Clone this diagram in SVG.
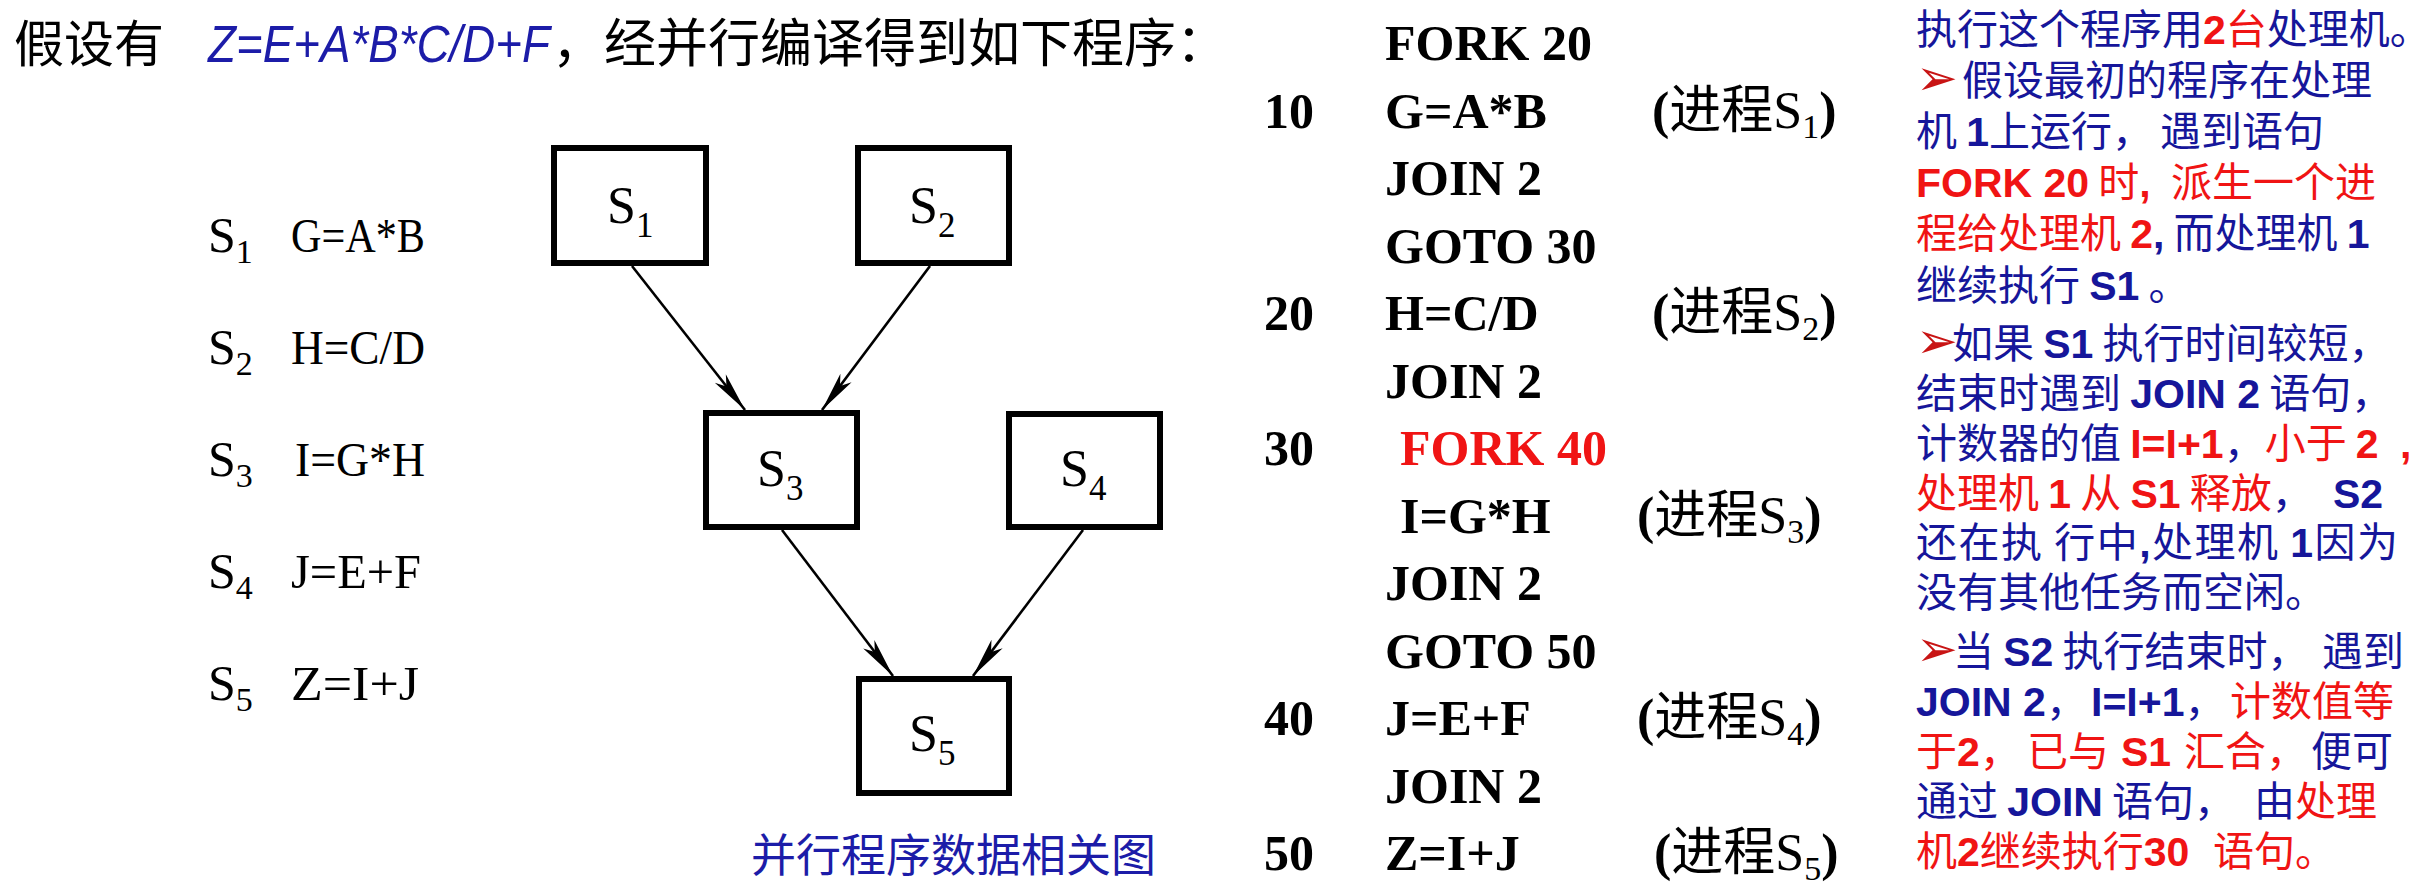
<svg xmlns="http://www.w3.org/2000/svg" width="2428" height="894" viewBox="0 0 2428 894">
<style>
.cjk{font-family:"Noto Sans CJK SC","Liberation Sans",sans-serif}
.ttl{font-size:50px;fill:#000}
.fml{font-family:"Liberation Sans",Arial,sans-serif;font-style:italic;fill:#1c1ca8}
.lst{font-family:"Liberation Serif","Times New Roman",serif;fill:#000}
.box{fill:#fff;stroke:#000;stroke-width:6}
.lbl{font-family:"Liberation Serif","Times New Roman",serif;font-size:52px;fill:#000}
.sub{font-size:35px}
.edge{stroke:#000;stroke-width:2.6;fill:none;marker-end:url(#ah)}
.code{font-family:"Liberation Serif","Times New Roman",serif;font-weight:bold;font-size:50px;fill:#000}
.red{fill:#f01414}
.par{font-family:"Liberation Serif","Noto Sans CJK SC",serif;font-size:52px;fill:#000}
.rp{font-family:"Noto Sans CJK SC","DejaVu Sans",sans-serif;font-size:41px;fill:#16169a}
.b{font-family:"Liberation Sans",Arial,sans-serif;font-weight:bold}
.r{fill:#f01414}
.ar{font-family:"DejaVu Sans",sans-serif;font-size:50px;fill:#c81414}
.cap{font-family:"Noto Sans CJK SC",sans-serif;font-size:45px;fill:#1c1ca8}
</style>
<defs>
<marker id="ah" viewBox="-42 -8 44 16" refX="0" refY="0" markerWidth="44" markerHeight="16" orient="auto" markerUnits="userSpaceOnUse">
<path d="M0,0 L-40,-7 L-30,0 L-40,7 Z" fill="#000"/>
</marker>
</defs>
<rect x="0" y="0" width="2428" height="894" fill="#fff"/>

<g id="title">
<text x="14" y="62" class="cjk ttl">假设有<tspan class="fml" font-size="52" x="208" textLength="342" lengthAdjust="spacingAndGlyphs">Z=E+A*B*C/D+F</tspan><tspan x="552" font-size="52">，经并行编译得到如下程序：</tspan></text>
</g>

<g id="statements">
<text x="208" y="252" class="lst" font-size="50">S<tspan font-size="34" dy="11">1</tspan></text>
<text x="291" y="252" class="lst" font-size="48" textLength="134" lengthAdjust="spacingAndGlyphs">G=A*B</text>
<text x="208" y="364" class="lst" font-size="50">S<tspan font-size="34" dy="11">2</tspan></text>
<text x="291" y="364" class="lst" font-size="48" textLength="134" lengthAdjust="spacingAndGlyphs">H=C/D</text>
<text x="208" y="476" class="lst" font-size="50">S<tspan font-size="34" dy="11">3</tspan></text>
<text x="295" y="476" class="lst" font-size="48" textLength="130" lengthAdjust="spacingAndGlyphs">I=G*H</text>
<text x="208" y="588" class="lst" font-size="50">S<tspan font-size="34" dy="11">4</tspan></text>
<text x="291" y="588" class="lst" font-size="48" textLength="130" lengthAdjust="spacingAndGlyphs">J=E+F</text>
<text x="208" y="700" class="lst" font-size="50">S<tspan font-size="34" dy="11">5</tspan></text>
<text x="291" y="700" class="lst" font-size="48" textLength="128" lengthAdjust="spacingAndGlyphs">Z=I+J</text>
</g>

<g id="connectors">
<line class="edge" x1="632" y1="266" x2="745" y2="410"/>
<line class="edge" x1="930" y1="266" x2="822" y2="410"/>
<line class="edge" x1="782" y1="530" x2="893" y2="676"/>
<line class="edge" x1="1083" y1="530" x2="973" y2="676"/>
</g>

<g id="node-s1">
<rect class="box" x="554" y="148" width="152" height="115"/>
<text class="lbl" x="607" y="223">S<tspan class="sub" dy="14">1</tspan></text>
</g>
<g id="node-s2">
<rect class="box" x="858" y="148" width="151" height="115"/>
<text class="lbl" x="909" y="223">S<tspan class="sub" dy="14">2</tspan></text>
</g>
<g id="node-s3">
<rect class="box" x="706" y="413" width="151" height="114"/>
<text class="lbl" x="757" y="486">S<tspan class="sub" dy="14">3</tspan></text>
</g>
<g id="node-s4">
<rect class="box" x="1009" y="414" width="151" height="113"/>
<text class="lbl" x="1060" y="486">S<tspan class="sub" dy="14">4</tspan></text>
</g>
<g id="node-s5">
<rect class="box" x="859" y="679" width="150" height="114"/>
<text class="lbl" x="909" y="751">S<tspan class="sub" dy="14">5</tspan></text>
</g>

<g id="caption">
<text x="751" y="872" class="cap">并行程序数据相关图</text>
</g>

<g id="program">
<text class="code" x="1385" y="60">FORK 20</text>
<text class="code" x="1264" y="127.5">10</text>
<text class="code" x="1385" y="127.5">G=A*B</text>
<text class="par" x="1652" y="127.5"><tspan font-weight="bold">(</tspan>进程S<tspan font-size="34" dy="10">1</tspan><tspan dy="-10" font-weight="bold">)</tspan></text>
<text class="code" x="1385" y="195">JOIN 2</text>
<text class="code" x="1385" y="262.5">GOTO 30</text>
<text class="code" x="1264" y="330">20</text>
<text class="code" x="1385" y="330">H=C/D</text>
<text class="par" x="1652" y="330"><tspan font-weight="bold">(</tspan>进程S<tspan font-size="34" dy="10">2</tspan><tspan dy="-10" font-weight="bold">)</tspan></text>
<text class="code" x="1385" y="397.5">JOIN 2</text>
<text class="code" x="1264" y="465">30</text>
<text class="code red" x="1400" y="465">FORK 40</text>
<text class="code" x="1400" y="532.5">I=G*H</text>
<text class="par" x="1637" y="532.5"><tspan font-weight="bold">(</tspan>进程S<tspan font-size="34" dy="10">3</tspan><tspan dy="-10" font-weight="bold">)</tspan></text>
<text class="code" x="1385" y="600">JOIN 2</text>
<text class="code" x="1385" y="667.5">GOTO 50</text>
<text class="code" x="1264" y="735">40</text>
<text class="code" x="1385" y="735">J=E+F</text>
<text class="par" x="1637" y="735"><tspan font-weight="bold">(</tspan>进程S<tspan font-size="34" dy="10">4</tspan><tspan dy="-10" font-weight="bold">)</tspan></text>
<text class="code" x="1385" y="802.5">JOIN 2</text>
<text class="code" x="1264" y="870">50</text>
<text class="code" x="1385" y="870">Z=I+J</text>
<text class="par" x="1654" y="870"><tspan font-weight="bold">(</tspan>进程S<tspan font-size="34" dy="10">5</tspan><tspan dy="-10" font-weight="bold">)</tspan></text>
</g>

<g id="explanation">
<text class="rp" x="1916" y="44">执行这个程序用<tspan class="b r">2</tspan><tspan class="r">台</tspan>处理机。</text>
<text class="rp" x="1916" y="95"><tspan class="ar">➢</tspan><tspan x="1962">假设最初的程序在处理</tspan></text>
<text class="rp" x="1916" y="146">机 <tspan class="b">1</tspan>上运行，<tspan x="2160">遇到语句</tspan></text>
<text class="rp" x="1916" y="197"><tspan class="b r">FORK 20</tspan><tspan class="r"> 时</tspan><tspan class="b r">,</tspan><tspan class="r" x="2171">派生一个进</tspan></text>
<text class="rp" x="1916" y="248"><tspan class="r">程给处理机 </tspan><tspan class="b r">2</tspan><tspan class="b">,</tspan> 而处理机 <tspan class="b">1</tspan></text>
<text class="rp" x="1916" y="300">继续执行 <tspan class="b">S1</tspan> 。</text>
<text class="rp" x="1916" y="358"><tspan class="ar">➢</tspan><tspan x="1952">如果 </tspan><tspan class="b">S1</tspan> 执行时间较短，</text>
<text class="rp" x="1916" y="408">结束时遇到 <tspan class="b">JOIN 2</tspan> 语句，</text>
<text class="rp" x="1916" y="458">计数器的值 <tspan class="b r">I=I+1</tspan>，<tspan class="r">小于 </tspan><tspan class="b r">2</tspan><tspan class="b r" x="2400">,</tspan></text>
<text class="rp" x="1916" y="508"><tspan class="r">处理机 </tspan><tspan class="b r">1</tspan><tspan class="r"> 从 </tspan><tspan class="b r">S1</tspan><tspan class="r"> 释放</tspan>，<tspan class="b" x="2333">S2</tspan></text>
<text class="rp" x="1916" y="557" letter-spacing="1.5">还在执 行中<tspan class="b">,</tspan>处理机 <tspan class="b">1</tspan>因为</text>
<text class="rp" x="1916" y="607">没有其他任务而空闲。</text>
<text class="rp" x="1916" y="666"><tspan class="ar">➢</tspan><tspan x="1953">当 </tspan><tspan class="b">S2</tspan> 执行结束时，<tspan x="2322">遇到</tspan></text>
<text class="rp" x="1916" y="716"><tspan class="b">JOIN 2</tspan>，<tspan class="b" x="2091">I=I+1</tspan>，<tspan class="r" x="2230">计数值等</tspan></text>
<text class="rp" x="1916" y="766"><tspan class="r">于</tspan><tspan class="b r">2</tspan><tspan class="r">，</tspan><tspan class="r" x="2027">已与 </tspan><tspan class="b r" x="2121">S1</tspan><tspan class="r" x="2184">汇合，</tspan><tspan x="2311">便可</tspan></text>
<text class="rp" x="1916" y="816">通过 <tspan class="b">JOIN</tspan> 语句，<tspan x="2254">由</tspan><tspan class="r">处理</tspan></text>
<text class="rp" x="1916" y="866"><tspan class="r">机</tspan><tspan class="b r">2</tspan><tspan class="r">继续执行</tspan><tspan class="b r">30</tspan><tspan class="r" x="2213">语句。</tspan></text>
</g>
</svg>
